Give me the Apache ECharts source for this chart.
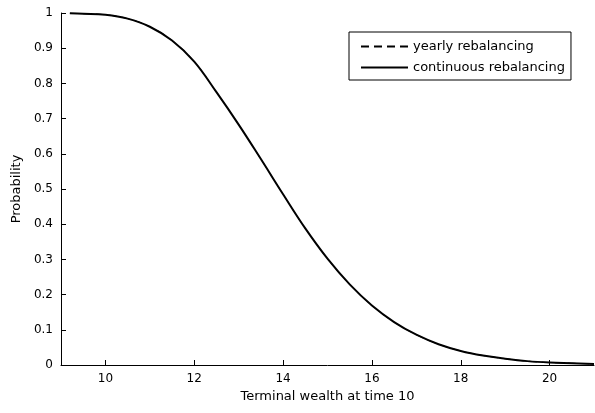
<!DOCTYPE html>
<html>
<head>
<meta charset="utf-8">
<script src="https://cdn.jsdelivr.net/npm/echarts@6/dist/echarts.min.js"></script>
<style>
html,body{margin:0;padding:0;background:#fff;}
#chart{width:595px;height:413px;}
</style>
</head>
<body>
<div id="chart"></div>
<script>
var wealth = [9.2, 9.5, 10, 10.5, 11, 11.5, 12, 12.5, 13, 13.5, 14, 14.5, 15, 15.5, 16, 16.5, 17, 17.5, 18, 18.5, 19, 19.5, 20, 20.5, 21];
var yearly = [0.999, 0.998, 0.995, 0.984, 0.961, 0.922, 0.862, 0.775, 0.683, 0.585, 0.485, 0.388, 0.302, 0.229, 0.169, 0.122, 0.086, 0.059, 0.040, 0.027, 0.018, 0.011, 0.007, 0.005, 0.003];
var continuous = [0.999, 0.998, 0.995, 0.984, 0.961, 0.922, 0.862, 0.775, 0.683, 0.585, 0.485, 0.388, 0.302, 0.229, 0.169, 0.122, 0.086, 0.059, 0.040, 0.027, 0.018, 0.011, 0.007, 0.005, 0.003];
var xTicks = [10, 12, 14, 16, 18, 20];
var seriesNames = ['yearly rebalancing', 'continuous rebalancing'];
var xName = 'Terminal wealth at time 10';
var yName = 'Probability';

function pairs(xs, ys) { return xs.map(function (x, i) { return [x, ys[i]]; }); }

var font = 'DejaVu Sans';
var chart = echarts.init(document.getElementById('chart'), null, {renderer: 'canvas'});
chart.setOption({
  backgroundColor: '#ffffff',
  animation: false,
  grid: {left: 61, right: 1, top: 13, bottom: 48, containLabel: false},
  legend: {
    orient: 'vertical',
    left: 349, top: 32,
    data: seriesNames,
    itemWidth: 47, itemHeight: 14, itemGap: 8,
    padding: [8, 6, 6, 11],
    borderColor: '#000', borderWidth: 1,
    backgroundColor: '#fff',
    itemStyle: {opacity: 0},
    textStyle: {fontFamily: font, fontSize: 13, color: '#000'}
  },
  xAxis: {
    type: 'value', min: 9, max: 21,
    name: xName, nameLocation: 'middle', nameGap: 25,
    nameTextStyle: {fontFamily: font, fontSize: 13, color: '#000'},
    axisLine: {lineStyle: {color: '#000', width: 1}},
    axisTick: {inside: true, length: 5, customValues: xTicks, lineStyle: {color: '#000'}},
    axisLabel: {customValues: xTicks, fontFamily: font, fontSize: 12, color: '#000', margin: 8},
    splitLine: {show: false}
  },
  yAxis: {
    type: 'value', min: 0, max: 1, interval: 0.1,
    name: yName, nameLocation: 'middle', nameGap: 37, nameRotate: 90,
    nameTextStyle: {fontFamily: font, fontSize: 13, color: '#000'},
    axisLine: {show: true, lineStyle: {color: '#000', width: 1}},
    axisTick: {show: true, inside: true, length: 5, lineStyle: {color: '#000'}},
    axisLabel: {fontFamily: font, fontSize: 12, color: '#000', margin: 8},
    splitLine: {show: false}
  },
  series: [
    {
      name: seriesNames[0], type: 'line', data: pairs(wealth, yearly),
      smooth: 0.4, symbol: 'none',
      lineStyle: {color: '#000', width: 1, type: [8, 5]},
      itemStyle: {color: '#000'}, z: 2
    },
    {
      name: seriesNames[1], type: 'line', data: pairs(wealth, continuous),
      smooth: 0.4, symbol: 'none',
      lineStyle: {color: '#000', width: 2, type: 'solid'},
      itemStyle: {color: '#000'}, z: 3
    }
  ]
});
</script>
</body>
</html>
